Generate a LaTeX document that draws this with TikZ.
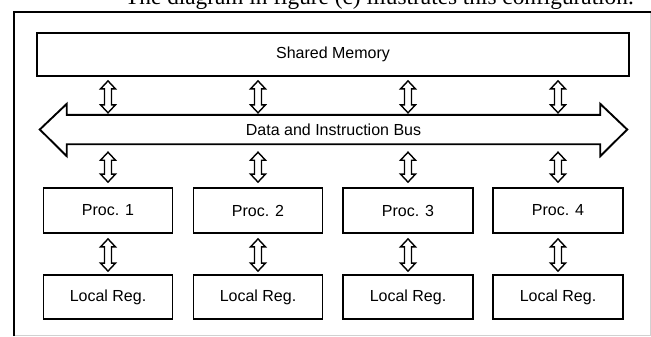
\documentclass[tikz,border=0pt]{standalone}
\usepackage{fontspec}
\setmainfont{Liberation Sans}
\newfontfamily\headserif{Liberation Serif}
\usetikzlibrary{calc}
\newcommand\lbl{\fontsize{16bp}{19bp}\selectfont}
\tikzset{
  box/.style={draw, line width=1.8bp, minimum width=129bp, minimum height=45bp, inner sep=0pt, font=\lbl},
  hollow/.style={draw, line width=1.4bp, line join=miter, fill=white},
  busline/.style={draw, line width=1.9bp, line join=miter},
  frameline/.style={line width=1.6bp},
  faintline/.style={line width=1bp, black!18}
}
% hollow double-headed arrow between two points (top, bottom)
\newcommand\harrow[2]{%
  \draw[hollow] let \p1=(#1), \p2=(#2) in
    (\x1,\y1) -- ++(7.5bp,-8bp) -- ++(-4bp,0) -- (\x1+3.5bp,\y2+8bp) -- ++(4bp,0)
    -- (\x1,\y2) -- ++(-7.5bp,8bp) -- ++(4bp,0) -- (\x1-3.5bp,\y1-8bp) -- ++(-4bp,0) -- cycle;}
\begin{document}
\begin{tikzpicture}[x=1bp, y=-1bp]
\useasboundingbox (0,0) rectangle (651,336);
\begin{scope}
\clip (0,0) rectangle (651,336);
\node[anchor=base west, inner sep=0pt, font=\headserif\fontsize{23.3bp}{28bp}\selectfont] (cap) at (125,4) {The diagram in figure (c) illustrates this configuration.};
\end{scope}
% frame
\draw[frameline] (14,336) -- (14,12) -- (651,12);
\draw[faintline] (650,13) -- (650,335) -- (15,335);
% shared memory
\node[box, minimum width=592bp, minimum height=43bp] (mem) at (333,54.5) {Shared Memory};
% bus
\node[minimum width=533bp, minimum height=29bp, inner sep=0pt, font=\lbl] (bus) at (333.5,129.5) {Data and Instruction Bus};
\draw[busline] (bus.north west) -- (bus.north east) -- ++(0,11bp) -- ($(bus.east)+(27bp,0)$)
  -- ($(bus.south east)+(0,-12bp)$) -- (bus.south east) -- (bus.south west) -- ++(0,-12bp)
  -- ($(bus.west)+(-27bp,0)$) -- ($(bus.north west)+(0,11bp)$) -- cycle;
% processors
\node[box] (p1) at (108,210.5) {Proc. 1};
\node[box] (p2) at (258,210.5) {Proc. 2};
\node[box, minimum width=130bp] (p3) at (408,210.5) {Proc. 3};
\node[box, minimum width=130bp] (p4) at (558,210.5) {Proc. 4};
% local registers
\node[box, minimum height=44bp] (l1) at (108,297) {Local Reg.};
\node[box, minimum height=44bp] (l2) at (258,297) {Local Reg.};
\node[box, minimum height=44bp, minimum width=130bp] (l3) at (408,297) {Local Reg.};
\node[box, minimum height=44bp, minimum width=130bp] (l4) at (558,297) {Local Reg.};
% connectors
\foreach \i in {1,2,3,4}{
  \coordinate (ma\i) at ($(mem.south -| p\i)+(0,4)$);
  \coordinate (mb\i) at ($(bus.north -| p\i)+(0,-2)$);
  \coordinate (ba\i) at ($(bus.south -| p\i)+(0,8)$);
  \coordinate (bb\i) at ($(p\i.north)+(0,-5)$);
  \coordinate (pa\i) at ($(p\i.south)+(0,5)$);
  \coordinate (pb\i) at ($(l\i.north)+(0,-3)$);
  \harrow{ma\i}{mb\i}
  \harrow{ba\i}{bb\i}
  \harrow{pa\i}{pb\i}
}
\end{tikzpicture}
\end{document}
